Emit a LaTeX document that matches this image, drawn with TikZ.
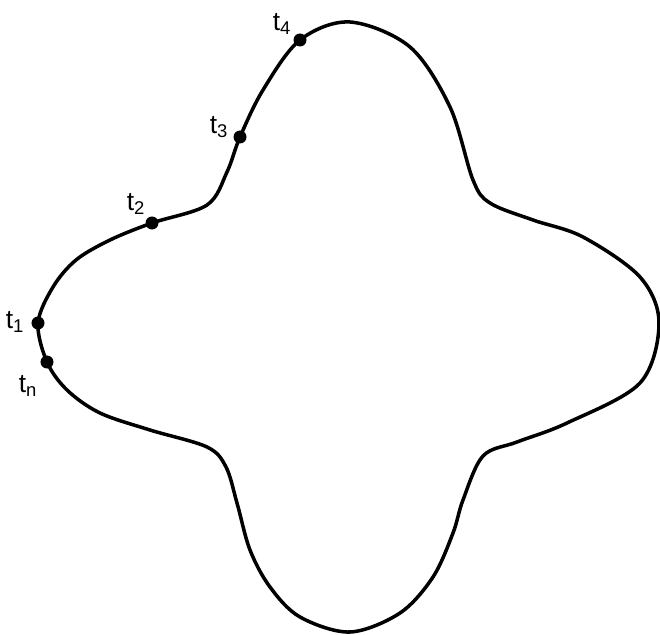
\documentclass[tikz,border=0pt]{standalone}
\usepackage{fontspec}
\setmainfont{Liberation Sans}
\usepackage{tikz}
\usetikzlibrary{positioning}

\begin{document}
\begin{tikzpicture}[x=0.02cm, y=-0.02cm,
    pt/.style={circle, fill, inner sep=0pt, minimum size=7.4pt},
    lbl/.style={inner sep=0pt, font=\fontsize{15}{17}\selectfont},
    curve/.style={line width=2pt, line join=round}]
  \useasboundingbox (0,0) rectangle (660,635);
  \coordinate (t1) at (38,323);
  \coordinate (t2) at (152,223);
  \coordinate (t3) at (240,137);
  \coordinate (t4) at (300,40);
  \coordinate (tn) at (47,362);
  \draw[curve] plot[smooth cycle, tension=0.55] coordinates {
    (t1) (53,287) (76,260) (110,240) (t2) (207,205) (227,172) (t3)
    (263,90) (t4) (350,22) (410,47) (450,107) (473,180) (490,203)
    (533,220) (583,237) (640,277) (659,323) (640,383) (567,423)
    (517,442) (483,456) (463,500) (453,533) (433,577) (400,613)
    (350,632) (300,617) (270,587) (250,550) (237,503) (226,467)
    (207,447) (150,430) (100,413) (67,390) (tn)};
  \foreach \p in {t1,t2,t3,t4,tn} \node[pt] (d\p) at (\p) {};
  \node[lbl] (l4) at ([shift={(-18,-16)}]t4) {t\textsubscript{4}};
  \node[lbl] (l3) at ([shift={(-21,-10)}]t3) {t\textsubscript{3}};
  \node[lbl] (l2) at ([shift={(-16,-19)}]t2) {t\textsubscript{2}};
  \node[lbl] (l1) at ([shift={(-23,-1)}]t1) {t\textsubscript{1}};
  \node[lbl] (ln) at ([shift={(-19,24)}]tn) {t\textsubscript{n}};
\end{tikzpicture}
\end{document}
